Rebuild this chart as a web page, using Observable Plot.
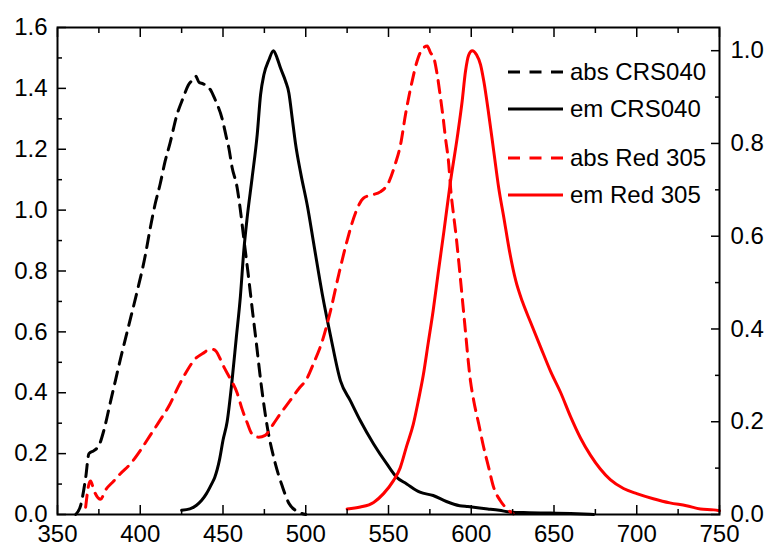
<!DOCTYPE html>
<html>
<head>
<meta charset="utf-8">
<script src="https://cdn.jsdelivr.net/npm/d3@7"></script>
<script src="https://cdn.jsdelivr.net/npm/@observablehq/plot@0.6"></script>
<style>
  body { margin: 0; background: #fff; }
  #chart { position: relative; width: 767px; height: 548px; }
</style>
</head>
<body>
<div id="chart"></div>
<script>
// Absorption of CRS040 (left axis, optical density)
const absCrsNm = [361, 364, 367, 369, 372, 375, 378, 382, 385, 388, 393, 398, 403, 406, 409, 412, 415, 418, 422, 426, 429, 432, 433.5, 435.5, 438, 441, 443, 445.5, 449.5, 452, 453.5, 455.5, 458.5, 460.5, 462.5, 465, 468, 470, 473, 477, 481, 486, 490, 495, 500];
const absCrsVal = [0, 0.03, 0.12, 0.20, 0.21, 0.226, 0.276, 0.37, 0.44, 0.51, 0.62, 0.73, 0.85, 0.94, 1.02, 1.085, 1.16, 1.22, 1.31, 1.37, 1.41, 1.43, 1.44, 1.42, 1.415, 1.405, 1.39, 1.36, 1.30, 1.24, 1.205, 1.14, 1.075, 1.0, 0.91, 0.80, 0.66, 0.57, 0.43, 0.28, 0.18, 0.09, 0.035, 0.01, 0];

// Emission of CRS040 (right axis, normalised)
const emCrsNm = [425, 430, 434, 437, 440, 443, 445, 448, 450, 452.5, 455.5, 458, 460.5, 462.6, 464.6, 467.6, 470.7, 472.7, 474.7, 477.7, 480.5, 482.7, 484.7, 487.8, 489.8, 491.8, 493.8, 497, 501, 505, 510, 515, 521, 527, 533, 541, 549, 555, 561, 569, 577, 585, 593, 598, 605, 610, 617, 624, 635, 648, 660, 674];
const emCrsVal = [0.009, 0.012, 0.02, 0.03, 0.045, 0.065, 0.08, 0.12, 0.16, 0.20, 0.29, 0.38, 0.47, 0.57, 0.64, 0.726, 0.82, 0.905, 0.948, 0.98, 1.0, 0.984, 0.963, 0.934, 0.909, 0.855, 0.80, 0.735, 0.665, 0.58, 0.475, 0.385, 0.288, 0.245, 0.202, 0.152, 0.109, 0.08, 0.066, 0.048, 0.041, 0.028, 0.019, 0.017, 0.014, 0.012, 0.009, 0.005, 0.004, 0.003, 0.002, 0.0];

// Absorption of Red 305 (left axis)
const absRedNm = [367, 369, 370, 372, 376, 379, 384, 388, 394, 400, 406, 412, 418, 423, 428, 433, 438, 441, 444, 446, 448, 451, 454, 458.5, 461.5, 464.5, 467.5, 471.5, 475.5, 480.5, 484.5, 490.5, 496.5, 500, 505, 510, 515, 520, 525, 530, 535, 540, 545, 550, 554, 557.3, 560.3, 564.3, 567.3, 570.3, 573.4, 575.4, 577.4, 579.4, 581.4, 583, 584.4, 586.4, 587.5, 589.5, 590.5, 593, 596, 599.5, 601.5, 604.5, 607.5, 610.5, 613.5, 617.5, 621.5, 625.5];
const absRedVal = [0.024, 0.10, 0.11, 0.079, 0.05, 0.08, 0.11, 0.134, 0.166, 0.21, 0.26, 0.31, 0.363, 0.42, 0.47, 0.51, 0.53, 0.54, 0.542, 0.535, 0.515, 0.48, 0.45, 0.40, 0.347, 0.303, 0.265, 0.254, 0.26, 0.298, 0.33, 0.374, 0.418, 0.44, 0.50, 0.57, 0.67, 0.79, 0.90, 0.99, 1.04, 1.05, 1.06, 1.09, 1.15, 1.216, 1.315, 1.424, 1.49, 1.528, 1.539, 1.517, 1.50, 1.446, 1.37, 1.304, 1.238, 1.151, 1.074, 0.976, 0.932, 0.80, 0.63, 0.44, 0.374, 0.298, 0.221, 0.155, 0.09, 0.046, 0.019, 0.002];

// Emission of Red 305 (right axis, normalised)
const emRedNm = [525, 533, 541, 547, 553, 557, 561, 565, 568, 571, 574, 577, 580, 583.5, 587.5, 591.5, 594.5, 596.5, 598.5, 600.6, 603.2, 605.6, 607.6, 610.6, 613.6, 616.6, 619.7, 623, 626.9, 630.9, 635.9, 641.9, 648, 654, 660, 666, 672, 678, 684, 692, 700, 710, 720, 730, 738.5, 746.5, 750];
const emRedVal = [0.012, 0.016, 0.026, 0.045, 0.073, 0.10, 0.148, 0.195, 0.245, 0.30, 0.37, 0.44, 0.52, 0.611, 0.719, 0.812, 0.891, 0.955, 0.991, 1.0, 0.991, 0.97, 0.934, 0.862, 0.783, 0.704, 0.64, 0.57, 0.504, 0.459, 0.414, 0.361, 0.308, 0.263, 0.211, 0.165, 0.128, 0.098, 0.075, 0.056, 0.045, 0.034, 0.025, 0.019, 0.012, 0.01, 0.008];

// Axis ticks
const xMajor = [350, 400, 450, 500, 550, 600, 650, 700, 750];
const xMinor = [375, 425, 475, 525, 575, 625, 675, 725];
const yLeftMajor = [0, 0.2, 0.4, 0.6, 0.8, 1.0, 1.2, 1.4, 1.6];
const yLeftMinor = [0.1, 0.3, 0.5, 0.7, 0.9, 1.1, 1.3, 1.5];
const yRightMajor = [0, 0.2, 0.4, 0.6, 0.8, 1.0];
const yRightMinor = [0.1, 0.3, 0.5, 0.7, 0.9];

const yLeftMax = 1.6;
const yRightMax = 1.05;
const toLeft = v => v * yLeftMax / yRightMax;

const seriesNames = ["abs CRS040", "em CRS040", "abs Red 305", "em Red 305"];
const seriesColors = ["#000000", "#000000", "#ff0000", "#ff0000"];
const seriesDashed = [true, false, true, false];
const seriesRight = [false, true, false, true];
const seriesNm = [absCrsNm, emCrsNm, absRedNm, emRedNm];
const seriesVal = [absCrsVal, emCrsVal, absRedVal, emRedVal];

const rows = seriesNames.flatMap((name, i) =>
  seriesNm[i].map((nm, j) => ({
    series: name,
    nm,
    v: seriesRight[i] ? toLeft(seriesVal[i][j]) : seriesVal[i][j]
  }))
);

const fontFamily = "'Liberation Sans', Arial, sans-serif";
const dash = "12,8";
const tickStroke = 1.5;
const majorLen = 9, minorLen = 5;
const blank = () => "";

const lineMarks = seriesNames.map((name, i) =>
  Plot.line(rows.filter(d => d.series === name), {
    x: "nm", y: "v",
    stroke: seriesColors[i],
    strokeWidth: 3,
    strokeDasharray: seriesDashed[i] ? dash : null,
    strokeLinejoin: "round",
    curve: "monotone-x"
  })
);

const chart = Plot.plot({
  width: 767,
  height: 548,
  marginLeft: 57,
  marginRight: 48,
  marginTop: 27,
  marginBottom: 34,
  x: { domain: [350, 750] },
  y: { domain: [0, yLeftMax] },
  style: { fontFamily, fontSize: "24px", color: "#000", background: "#fff" },
  marks: [
    ...lineMarks,
    // inward ticks on all four sides
    Plot.axisX({ ticks: xMajor, anchor: "bottom", tickSize: majorLen, dy: -majorLen, tickFormat: blank, label: null, strokeWidth: tickStroke }),
    Plot.axisX({ ticks: xMinor, anchor: "bottom", tickSize: minorLen, dy: -minorLen, tickFormat: blank, label: null, strokeWidth: tickStroke }),
    Plot.axisX({ ticks: xMajor, anchor: "top", tickSize: majorLen, dy: majorLen, tickFormat: blank, label: null, strokeWidth: tickStroke }),
    Plot.axisX({ ticks: xMinor, anchor: "top", tickSize: minorLen, dy: minorLen, tickFormat: blank, label: null, strokeWidth: tickStroke }),
    Plot.axisY({ ticks: yLeftMajor, anchor: "left", tickSize: majorLen, dx: majorLen, tickFormat: blank, label: null, strokeWidth: tickStroke }),
    Plot.axisY({ ticks: yLeftMinor, anchor: "left", tickSize: minorLen, dx: minorLen, tickFormat: blank, label: null, strokeWidth: tickStroke }),
    Plot.axisY({ ticks: yRightMajor.map(toLeft), anchor: "right", tickSize: majorLen, dx: -majorLen, tickFormat: blank, label: null, strokeWidth: tickStroke }),
    Plot.axisY({ ticks: yRightMinor.map(toLeft), anchor: "right", tickSize: minorLen, dx: -minorLen, tickFormat: blank, label: null, strokeWidth: tickStroke }),
    // tick labels
    Plot.axisX({ ticks: xMajor, anchor: "bottom", tickSize: 0, tickPadding: 10, label: null, tickFormat: d => String(d) }),
    Plot.axisY({ ticks: yLeftMajor, anchor: "left", tickSize: 0, tickPadding: 10, label: null, tickFormat: d => d.toFixed(1) }),
    Plot.axisY({ ticks: yRightMajor.map(toLeft), anchor: "right", tickSize: 0, tickPadding: 11, label: null, tickFormat: d => (d * yRightMax / yLeftMax).toFixed(1) }),
    Plot.frame({ stroke: "#000", strokeWidth: 2 })
  ]
});

// Legend in the upper right of the plot area
const legendX = 508, legendLine = 55, legendGap = 7;
const legendRowY = i => 72 + i * 37 + (i >= 2 ? 12 : 0);
const legend = d3.select(chart).append("g").attr("class", "legend");
seriesNames.forEach((name, i) => {
  const y = legendRowY(i);
  legend.append("line")
    .attr("x1", legendX).attr("x2", legendX + legendLine)
    .attr("y1", y).attr("y2", y)
    .attr("stroke", seriesColors[i])
    .attr("stroke-width", 3)
    .attr("stroke-dasharray", seriesDashed[i] ? "12,9.5" : null);
  legend.append("text")
    .attr("x", legendX + legendLine + legendGap)
    .attr("y", y)
    .attr("dy", "0.35em")
    .attr("text-anchor", "start")
    .attr("fill", "#000")
    .style("font-family", fontFamily)
    .style("font-size", "24px")
    .text(name);
});

document.getElementById("chart").appendChild(chart);
</script>
</body>
</html>
